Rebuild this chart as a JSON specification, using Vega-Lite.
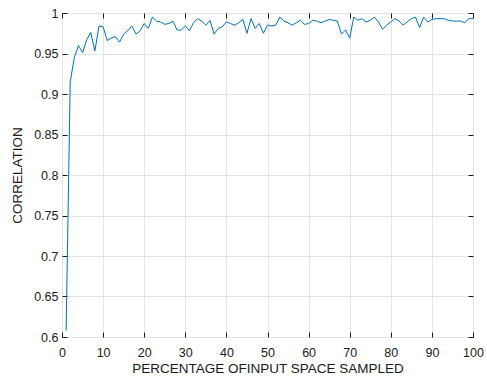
{
  "$schema": "https://vega.github.io/schema/vega-lite/v6.json",
  "width": 411,
  "height": 324,
  "autosize": {"type": "none"},
  "padding": {"left": 62, "top": 13, "right": 14, "bottom": 42},
  "background": "white",
  "config": {
    "view": {"stroke": "black", "strokeWidth": 1},
    "font": "Liberation Sans",
    "axis": {
      "labelFont": "Liberation Sans",
      "titleFont": "Liberation Sans",
      "labelFontSize": 12.5,
      "titleFontSize": 13.5,
      "titleFontWeight": "normal",
      "labelColor": "#1a1a1a",
      "titleColor": "#1a1a1a",
      "labelFlush": false,
      "labelOverlap": false,
      "domain": false,
      "tickColor": "#1a1a1a",
      "tickSize": -5,
      "gridColor": "#e3e3e3",
      "gridWidth": 1
    }
  },
  "data": {
    "values": [
      {"p": 1, "c": 0.608}, {"p": 2, "c": 0.915}, {"p": 3, "c": 0.945}, {"p": 4, "c": 0.960},
      {"p": 5, "c": 0.951}, {"p": 6, "c": 0.967}, {"p": 7, "c": 0.976}, {"p": 8, "c": 0.953},
      {"p": 9, "c": 0.984}, {"p": 10, "c": 0.983}, {"p": 11, "c": 0.966}, {"p": 12, "c": 0.969},
      {"p": 13, "c": 0.971}, {"p": 14, "c": 0.964}, {"p": 15, "c": 0.974}, {"p": 16, "c": 0.978},
      {"p": 17, "c": 0.984}, {"p": 18, "c": 0.974}, {"p": 19, "c": 0.978}, {"p": 20, "c": 0.987},
      {"p": 21, "c": 0.981}, {"p": 22, "c": 0.995}, {"p": 23, "c": 0.990}, {"p": 24, "c": 0.989},
      {"p": 25, "c": 0.986}, {"p": 26, "c": 0.987}, {"p": 27, "c": 0.990}, {"p": 28, "c": 0.979},
      {"p": 29, "c": 0.979}, {"p": 30, "c": 0.984}, {"p": 31, "c": 0.978}, {"p": 32, "c": 0.988},
      {"p": 33, "c": 0.993}, {"p": 34, "c": 0.990}, {"p": 35, "c": 0.985}, {"p": 36, "c": 0.991},
      {"p": 37, "c": 0.974}, {"p": 38, "c": 0.981}, {"p": 39, "c": 0.983}, {"p": 40, "c": 0.989},
      {"p": 41, "c": 0.987}, {"p": 42, "c": 0.985}, {"p": 43, "c": 0.988}, {"p": 44, "c": 0.992},
      {"p": 45, "c": 0.975}, {"p": 46, "c": 0.993}, {"p": 47, "c": 0.981}, {"p": 48, "c": 0.987},
      {"p": 49, "c": 0.975}, {"p": 50, "c": 0.985}, {"p": 51, "c": 0.984}, {"p": 52, "c": 0.985},
      {"p": 53, "c": 0.995}, {"p": 54, "c": 0.990}, {"p": 55, "c": 0.988}, {"p": 56, "c": 0.985},
      {"p": 57, "c": 0.988}, {"p": 58, "c": 0.991}, {"p": 59, "c": 0.986}, {"p": 60, "c": 0.987},
      {"p": 61, "c": 0.991}, {"p": 62, "c": 0.990}, {"p": 63, "c": 0.988}, {"p": 64, "c": 0.990},
      {"p": 65, "c": 0.992}, {"p": 66, "c": 0.991}, {"p": 67, "c": 0.990}, {"p": 68, "c": 0.974},
      {"p": 69, "c": 0.979}, {"p": 70, "c": 0.969}, {"p": 71, "c": 0.995}, {"p": 72, "c": 0.991},
      {"p": 73, "c": 0.993}, {"p": 74, "c": 0.989}, {"p": 75, "c": 0.991}, {"p": 76, "c": 0.995},
      {"p": 77, "c": 0.989}, {"p": 78, "c": 0.980}, {"p": 79, "c": 0.985}, {"p": 80, "c": 0.989},
      {"p": 81, "c": 0.993}, {"p": 82, "c": 0.990}, {"p": 83, "c": 0.985}, {"p": 84, "c": 0.989},
      {"p": 85, "c": 0.993}, {"p": 86, "c": 0.995}, {"p": 87, "c": 0.982}, {"p": 88, "c": 0.995},
      {"p": 89, "c": 0.989}, {"p": 90, "c": 0.992}, {"p": 91, "c": 0.993}, {"p": 92, "c": 0.993},
      {"p": 93, "c": 0.993}, {"p": 94, "c": 0.991}, {"p": 95, "c": 0.990}, {"p": 96, "c": 0.990},
      {"p": 97, "c": 0.990}, {"p": 98, "c": 0.988}, {"p": 99, "c": 0.993}, {"p": 100, "c": 0.993}
    ]
  },
  "layer": [
    {
      "mark": {"type": "line", "color": "#0072BD", "strokeWidth": 1},
      "encoding": {
        "x": {
          "field": "p", "type": "quantitative",
          "scale": {"domain": [0, 100], "nice": false, "zero": false},
          "axis": {"values": [0,10,20,30,40,50,60,70,80,90,100], "title": "PERCENTAGE OFINPUT SPACE SAMPLED", "labelPadding": 14, "titlePadding": 3}
        },
        "y": {
          "field": "c", "type": "quantitative",
          "scale": {"domain": [0.6, 1], "nice": false, "zero": false},
          "axis": {"values": [0.6,0.65,0.7,0.75,0.8,0.85,0.9,0.95,1], "format": "~g", "title": "CORRELATION", "labelPadding": 9, "titlePadding": 9}
        }
      }
    },
    {
      "mark": {"type": "line", "opacity": 0},
      "encoding": {
        "x": {
          "field": "p", "type": "quantitative",
          "scale": {"domain": [0, 100], "nice": false, "zero": false},
          "axis": {"orient": "top", "values": [0,10,20,30,40,50,60,70,80,90,100], "labels": false, "title": null, "grid": false}
        },
        "y": {
          "field": "c", "type": "quantitative",
          "scale": {"domain": [0.6, 1], "nice": false, "zero": false},
          "axis": {"orient": "right", "values": [0.6,0.65,0.7,0.75,0.8,0.85,0.9,0.95,1], "labels": false, "title": null, "grid": false}
        }
      }
    }
  ],
  "resolve": {"axis": {"x": "independent", "y": "independent"}}
}
